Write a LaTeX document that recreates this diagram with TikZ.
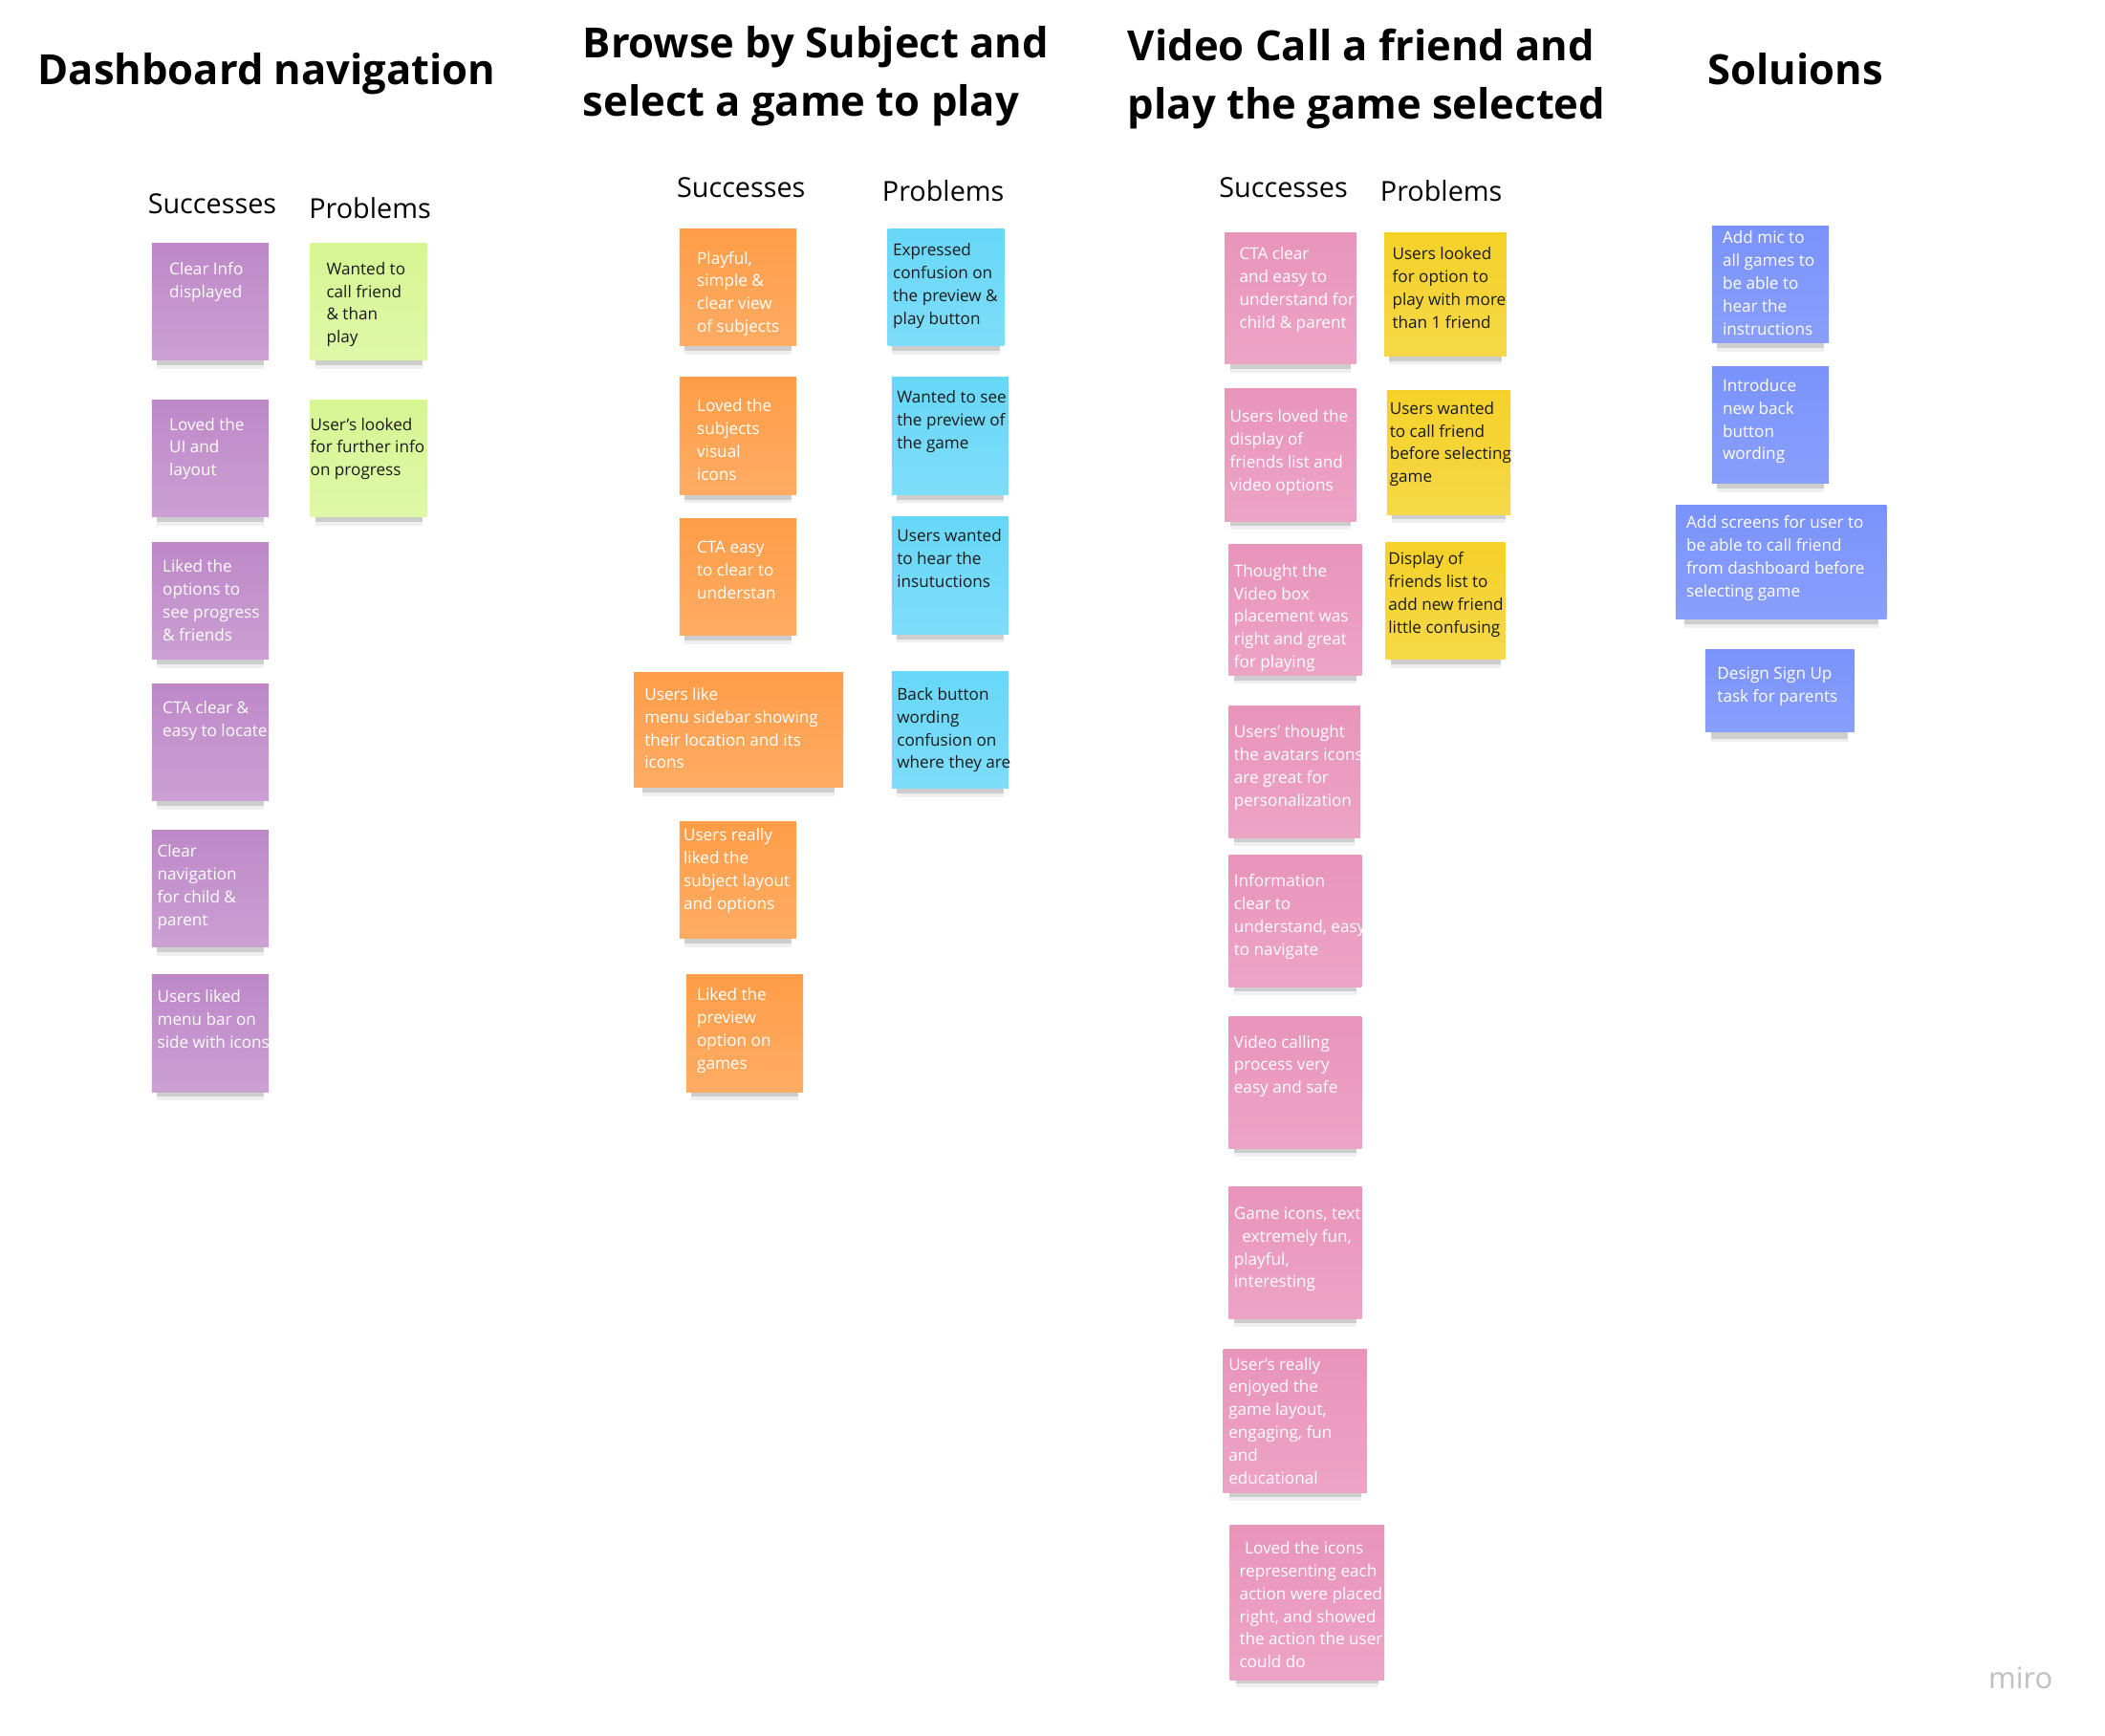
\documentclass[tikz,border=0pt]{standalone}
\usepackage{fontspec}
\setmainfont{Open Sans}
\usepackage{tikz}
\usetikzlibrary{positioning, shadows}
\definecolor{stickyviolet}{RGB}{190,136,200}
\definecolor{stickylime}{RGB}{214,246,146}
\definecolor{stickyorange}{RGB}{255,157,72}
\definecolor{stickycyan}{RGB}{103,215,248}
\definecolor{stickypink}{RGB}{233,148,187}
\definecolor{stickyyellow}{RGB}{245,209,40}
\definecolor{stickyblue}{RGB}{122,146,252}
\definecolor{inkdark}{RGB}{26,26,26}

\begin{document}
\begin{tikzpicture}[x=1pt, y=-1pt,
    note/.style={anchor=north west, minimum width=87pt, minimum height=87pt, inner sep=0pt,
      drop shadow={shadow xshift=0pt, shadow yshift=-11pt, shadow scale=0.92, opacity=0.12},
      drop shadow={shadow xshift=0pt, shadow yshift=-8pt, shadow scale=0.92, opacity=0.3}},
    nviolet/.style={note, top color=stickyviolet, bottom color=stickyviolet!80!white},
    nlime/.style={note, top color=stickylime, bottom color=stickylime!80!white},
    norange/.style={note, top color=stickyorange, bottom color=stickyorange!85!white},
    ncyan/.style={note, top color=stickycyan, bottom color=stickycyan!85!white},
    npink/.style={note, top color=stickypink, bottom color=stickypink!85!white},
    nyellow/.style={note, top color=stickyyellow, bottom color=stickyyellow!85!white},
    nblue/.style={note, top color=stickyblue, bottom color=stickyblue!88!white},
    txt/.style={anchor=north west, inner sep=0pt, align=left,
      font=\fontsize{12.2}{17}\selectfont},
    wtxt/.style={txt, text=white},
    btxt/.style={txt, text=inkdark},
    heading/.style={anchor=north west, inner sep=0pt, align=left,
      font=\fontsize{31}{44}\selectfont\bfseries},
    colhead/.style={anchor=west, inner sep=0pt, font=\fontsize{20.5}{24}\selectfont}]

  \fill[white] (0,0) rectangle (1568,1293);
  \useasboundingbox (0,0) rectangle (1568,1293);

  % Headings
  \node[heading] (h1) at (28,39) {Dashboard navigation};
  \node[heading] (h2) at (434,19) {Browse by Subject and\\select a game to play};
  \node[heading] (h3) at (840,21) {Video Call a friend and\\play the game selected};
  \node[heading] (h4) at (1272,39) {Soluions};

  % Column heads
  \node[colhead] (c1s) at (110,152) {Successes};
  \node[colhead] (c1p) at (230,155) {Problems};
  \node[colhead] (c2s) at (504,140) {Successes};
  \node[colhead] (c2p) at (657,142) {Problems};
  \node[colhead] (c3s) at (908,140) {Successes};
  \node[colhead] (c3p) at (1028,142) {Problems};

  % Dashboard navigation - successes
  \node[nviolet] (ds1) at (113,181) {};
  \node[wtxt] (ds1t) at ([shift={(13,14)}]ds1.north west) {Clear Info\\displayed};
  \node[nviolet] (ds2) at (113,298) {};
  \node[wtxt] (ds2t) at ([shift={(13,13)}]ds2.north west) {Loved the\\UI and\\layout};
  \node[nviolet] (ds3) at (113,404) {};
  \node[wtxt] (ds3t) at ([shift={(8,13)}]ds3.north west) {Liked the\\options to\\see progress\\\& friends};
  \node[nviolet] (ds4) at (113,509) {};
  \node[wtxt] (ds4t) at ([shift={(8,13)}]ds4.north west) {CTA clear \&\\easy to locate};
  \node[nviolet] (ds5) at (113,618) {};
  \node[wtxt] (ds5t) at ([shift={(4,11)}]ds5.north west) {Clear\\navigation\\for child \&\\parent};
  \node[nviolet] (ds6) at (113,726) {};
  \node[wtxt] (ds6t) at ([shift={(4,11)}]ds6.north west) {Users liked\\menu bar on\\side with icons};

  % Dashboard navigation - problems
  \node[nlime] (dp1) at (231,181) {};
  \node[btxt] (dp1t) at ([shift={(12,14)}]dp1.north west) {Wanted to\\call friend\\\& than\\play};
  \node[nlime] (dp2) at (231,298) {};
  \node[btxt] (dp2t) at ([shift={(0,13)}]dp2.north west) {User's looked\\for further info\\on progress};

  % Browse by subject - successes
  \node[norange] (bs1) at (506,170) {};
  \node[wtxt] (bs1t) at ([shift={(13,17)}]bs1.north west) {Playful,\\simple \&\\clear view\\of subjects};
  \node[norange] (bs2) at (506,281) {};
  \node[wtxt] (bs2t) at ([shift={(13,16)}]bs2.north west) {Loved the\\subjects\\visual\\icons};
  \node[norange] (bs3) at (506,386) {};
  \node[wtxt] (bs3t) at ([shift={(13,17)}]bs3.north west) {CTA easy\\to clear to\\understan};
  \node[norange, minimum width=156pt, minimum height=85pt] (bs4) at (472,501) {};
  \node[wtxt] (bs4t) at ([shift={(8,11)}]bs4.north west) {Users like\\menu sidebar showing\\their location and its\\icons};
  \node[norange] (bs5) at (506,612) {};
  \node[wtxt] (bs5t) at ([shift={(3,5)}]bs5.north west) {Users really\\liked the\\subject layout\\and options};
  \node[norange] (bs6) at (511,726) {};
  \node[wtxt] (bs6t) at ([shift={(8,10)}]bs6.north west) {Liked the\\preview\\option on\\games};

  % Browse by subject - problems
  \node[ncyan] (bp1) at (661,170) {};
  \node[btxt] (bp1t) at ([shift={(4,11)}]bp1.north west) {Expressed\\confusion on\\the preview \&\\play button};
  \node[ncyan] (bp2) at (664,281) {};
  \node[btxt] (bp2t) at ([shift={(4,10)}]bp2.north west) {Wanted to see\\the preview of\\the game};
  \node[ncyan] (bp3) at (664,385) {};
  \node[btxt] (bp3t) at ([shift={(4,9)}]bp3.north west) {Users wanted\\to hear the\\insutuctions};
  \node[ncyan] (bp4) at (664,500) {};
  \node[btxt] (bp4t) at ([shift={(4,12)}]bp4.north west) {Back button\\wording\\confusion on\\where they are};

  % Video call - successes
  \node[npink, minimum width=98pt, minimum height=98pt] (vs1) at (912,173) {};
  \node[wtxt] (vs1t) at ([shift={(11,11)}]vs1.north west) {CTA clear\\and easy to\\understand for\\child \& parent};
  \node[npink, minimum width=98pt, minimum height=99pt] (vs2) at (912,289) {};
  \node[wtxt] (vs2t) at ([shift={(4,16)}]vs2.north west) {Users loved the\\display of\\friends list and\\video options};
  \node[npink, minimum width=99pt, minimum height=98pt] (vs3) at (915,405) {};
  \node[wtxt] (vs3t) at ([shift={(4,15)}]vs3.north west) {Thought the\\Video box\\placement was\\right and great\\for playing};
  \node[npink, minimum width=98pt, minimum height=98pt] (vs4) at (915,526) {};
  \node[wtxt] (vs4t) at ([shift={(4,14)}]vs4.north west) {Users' thought\\the avatars icons\\are great for\\personalization};
  \node[npink, minimum width=99pt, minimum height=98pt] (vs5) at (915,637) {};
  \node[wtxt] (vs5t) at ([shift={(4,14)}]vs5.north west) {Information\\clear to\\understand, easy\\to navigate};
  \node[npink, minimum width=99pt, minimum height=98pt] (vs6) at (915,757) {};
  \node[wtxt] (vs6t) at ([shift={(4,14)}]vs6.north west) {Video calling\\process very\\easy and safe};
  \node[npink, minimum width=99pt, minimum height=98pt] (vs7) at (915,884) {};
  \node[wtxt] (vs7t) at ([shift={(4,15)}]vs7.north west) {Game icons, text\\\hspace{6pt}extremely fun,\\playful,\\interesting};
  \node[npink, minimum width=107pt, minimum height=107pt] (vs8) at (911,1005) {};
  \node[wtxt] (vs8t) at ([shift={(4,6)}]vs8.north west) {User's really\\enjoyed the\\game layout,\\engaging, fun\\and\\educational};
  \node[npink, minimum width=115pt, minimum height=115pt] (vs9) at (916,1136) {};
  \node[wtxt] (vs9t) at ([shift={(7,12)}]vs9.north west) {\hspace{4pt}Loved the icons\\representing each\\action were placed\\right, and showed\\the action the user\\could do};

  % Video call - problems
  \node[nyellow, minimum width=91pt, minimum height=92pt] (vp1) at (1031,173) {};
  \node[btxt] (vp1t) at ([shift={(6,11)}]vp1.north west) {Users looked\\for option to\\play with more\\than 1 friend};
  \node[nyellow, minimum width=92pt, minimum height=92pt] (vp2) at (1033,291) {};
  \node[btxt] (vp2t) at ([shift={(2,8)}]vp2.north west) {Users wanted\\to call friend\\before selecting\\game};
  \node[nyellow, minimum width=89pt, minimum height=87pt] (vp3) at (1032,404) {};
  \node[btxt] (vp3t) at ([shift={(2,7)}]vp3.north west) {Display of\\friends list to\\add new friend\\little confusing};

  % Solutions
  \node[nblue] (so1) at (1275,168) {};
  \node[wtxt] (so1t) at ([shift={(8,4)}]so1.north west) {Add mic to\\all games to\\be able to\\hear the\\instructions};
  \node[nblue] (so2) at (1275,273) {};
  \node[wtxt] (so2t) at ([shift={(8,9)}]so2.north west) {Introduce\\new back\\button\\wording};
  \node[nblue, minimum width=157pt, minimum height=85pt] (so3) at (1248,376) {};
  \node[wtxt] (so3t) at ([shift={(8,8)}]so3.north west) {Add screens for user to\\be able to call friend\\from dashboard before\\selecting game};
  \node[nblue, minimum width=111pt, minimum height=61pt] (so4) at (1270,484) {};
  \node[wtxt] (so4t) at ([shift={(9,13)}]so4.north west) {Design Sign Up\\task for parents};

  % Logo
  \node[anchor=west, inner sep=0pt, text=black!25, font=\fontsize{22}{22}\selectfont] (logo) at (1481,1250) {miro};
\end{tikzpicture}
\end{document}
